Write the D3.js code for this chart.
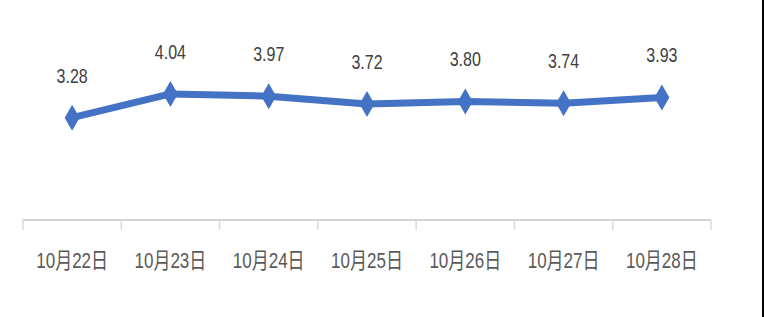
<!DOCTYPE html>
<html>
<head>
<meta charset="utf-8">
<script src="https://cdn.jsdelivr.net/npm/d3@7"></script>
<style>
  body { margin: 0; background: #fff; }
  svg { display: block; }
  text { font-family: "Liberation Sans", "Noto Sans CJK SC", sans-serif; }
</style>
</head>
<body>
<svg id="chart" width="764" height="317"></svg>
<script>
const dates = ['10月22日', '10月23日', '10月24日', '10月25日', '10月26日', '10月27日', '10月28日'];
const values = [3.28, 4.04, 3.97, 3.72, 3.80, 3.74, 3.93];

const svg = d3.select('#chart');
const AXIS_Y = 220;

const x = d3.scaleBand()
  .domain(dates)
  .range([23, 711]);

const y = d3.scaleLinear()
  .domain([0, 5])
  .range([AXIS_Y, AXIS_Y - 156]);

const cx = d => x(d) + x.bandwidth() / 2;

// right edge border
svg.append('rect')
  .attr('x', 762).attr('y', 0)
  .attr('width', 2).attr('height', 317)
  .attr('fill', '#000');

// axis line
svg.append('line')
  .attr('x1', x.range()[0]).attr('x2', x.range()[1])
  .attr('y1', AXIS_Y).attr('y2', AXIS_Y)
  .attr('stroke', '#d4d4d4')
  .attr('stroke-width', 2);

// tick marks at category boundaries
const bounds = dates.map(d => x(d)).concat([x.range()[1]]);
svg.append('g')
  .selectAll('line')
  .data(bounds)
  .join('line')
  .attr('x1', d => d).attr('x2', d => d)
  .attr('y1', AXIS_Y).attr('y2', AXIS_Y + 10)
  .attr('stroke', '#dadada')
  .attr('stroke-width', 1.5);

// category labels
svg.append('g')
  .selectAll('text')
  .data(dates)
  .join('text')
  .attr('transform', d => `translate(${cx(d)},268) scale(1,1.3)`)
  .attr('text-anchor', 'middle')
  .attr('font-size', 17)
  .attr('fill', '#595959')
  .text(d => d);

const points = dates.map((d, i) => ({ date: d, value: values[i] }));

const line = d3.line()
  .x(p => cx(p.date))
  .y(p => y(p.value));

svg.append('path')
  .datum(points)
  .attr('d', line)
  .attr('fill', 'none')
  .attr('stroke', '#4472C4')
  .attr('stroke-width', 7)
  .attr('stroke-linejoin', 'round');

svg.append('g')
  .selectAll('path')
  .data(points)
  .join('path')
  .attr('transform', p => `translate(${cx(p.date)},${y(p.value)})`)
  .attr('d', 'M0,-13L7.5,0L0,13L-7.5,0Z')
  .attr('fill', '#4472C4');

// data labels
svg.append('g')
  .selectAll('text')
  .data(points)
  .join('text')
  .attr('transform', p => `translate(${cx(p.date)},${y(p.value) - 35}) scale(1,1.3)`)
  .attr('text-anchor', 'middle')
  .attr('font-size', 16)
  .attr('fill', '#404040')
  .text(p => p.value.toFixed(2));
</script>
</body>
</html>
